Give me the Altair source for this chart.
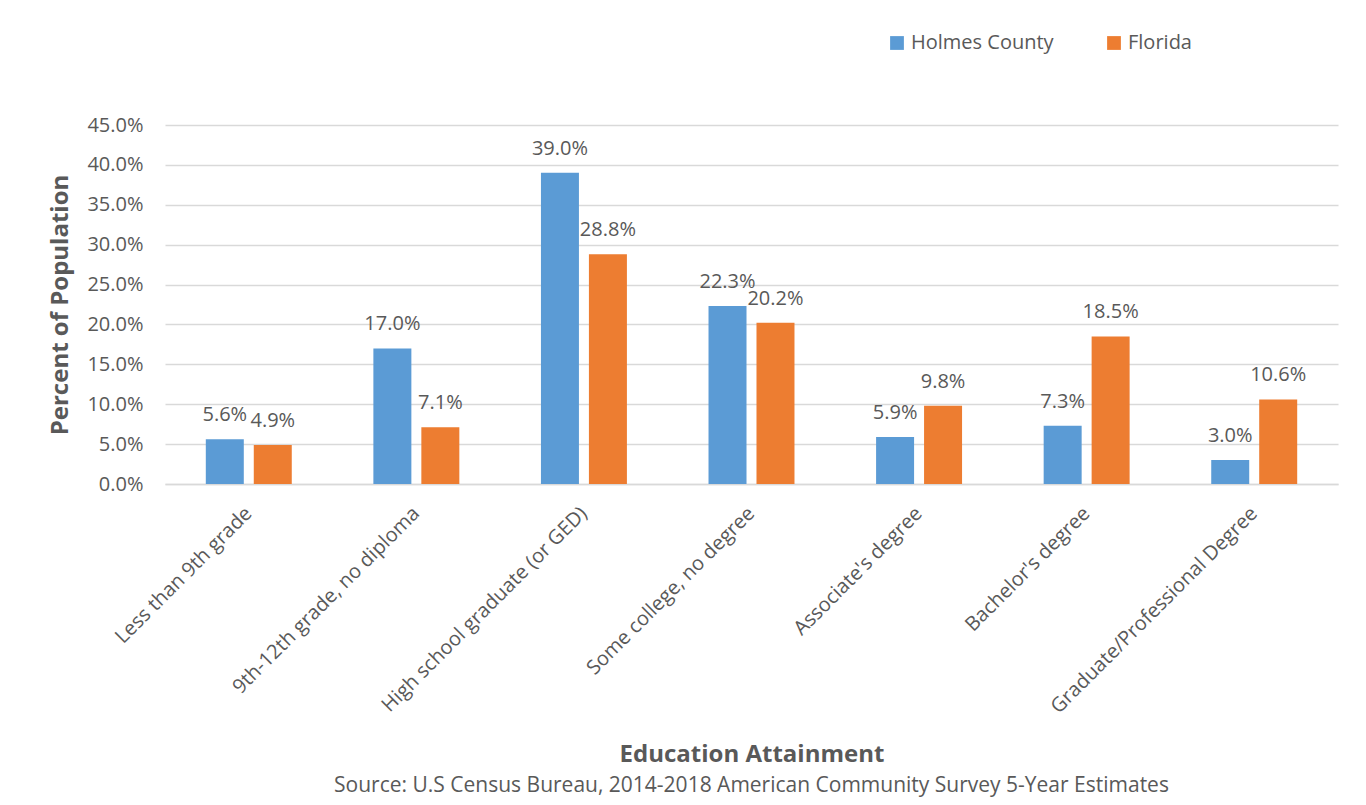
import altair as alt
import pandas as pd

categories = ["Less than 9th grade", "9th-12th grade, no diploma", "High school graduate (or GED)",
              "Some college, no degree", "Associate's degree", "Bachelor's degree",
              "Graduate/Professional Degree"]
holmes = [5.6, 17.0, 39.0, 22.3, 5.9, 7.3, 3.0]
florida = [4.9, 7.1, 28.8, 20.2, 9.8, 18.5, 10.6]
series = ["Holmes County", "Florida"]
colors = ["#5B9BD5", "#ED7D31"]
yticks = [0, 5, 10, 15, 20, 25, 30, 35, 40, 45]

rows = []
for c, h, f in zip(categories, holmes, florida):
    rows.append({"cat": c, "series": series[0], "value": h})
    rows.append({"cat": c, "series": series[1], "value": f})
df = pd.DataFrame(rows)

FONT = "Open Sans"
GRAY = "#595959"
LBL = 20

xscale = alt.Scale(paddingInner=0.487, paddingOuter=0.2435)
yscale = alt.Scale(domain=[0, 45], nice=False)

base = alt.Chart(df).transform_calculate(
    lab="format(datum.value, '.1f') + '%'"
).encode(
    x=alt.X("cat:N", sort=categories, scale=xscale,
            axis=alt.Axis(title="Education Attainment", labelAngle=-45, labelAlign="right",
                          labelBaseline="middle", labelFontSize=LBL, labelColor=GRAY,
                          labelFont=FONT, labelPadding=26, ticks=False, domain=True,
                          domainColor="#d9d9d9", domainWidth=1.5, titleFontSize=24, titleFont=FONT,
                          titleFontWeight="bold", titleColor=GRAY, titlePadding=58,
                          labelLimit=500)),
    xOffset=alt.XOffset("series:N", sort=series,
                        scale=alt.Scale(paddingInner=0.208, paddingOuter=0)),
    y=alt.Y("value:Q", scale=yscale,
            axis=alt.Axis(values=yticks, labelOverlap=False,
                          labelExpr="format(datum.value, '.1f') + '%'",
                          title="Percent of Population", titleFontSize=24, titleFont=FONT,
                          titleFontWeight="bold", titleColor=GRAY, titlePadding=14,
                          labelFontSize=LBL, labelColor=GRAY, labelFont=FONT, labelPadding=22,
                          ticks=False, domain=False, grid=True, gridColor="#d9d9d9",
                          gridWidth=1.5)),
)

bars = base.mark_bar().encode(
    color=alt.Color("series:N", sort=series,
                    scale=alt.Scale(domain=series, range=colors),
                    legend=alt.Legend(title=None, orient="none", direction="horizontal",
                                      legendX=722, legendY=-92, symbolType="square",
                                      symbolSize=190, symbolStrokeWidth=0, labelFontSize=20,
                                      labelFont=FONT, labelColor=GRAY, columnPadding=50,
                                      symbolOpacity=1)),
)

labels = base.mark_text(baseline="alphabetic", dy=-18, fontSize=LBL, font=FONT, color=GRAY).encode(
    text="lab:N",
)

chart = alt.layer(bars, labels).properties(
    width=1173, height=359,
    autosize=alt.AutoSizeParams(type="none"),
    padding={"left": 157, "top": 117, "right": 20, "bottom": 321},
    title=alt.TitleParams(text="Source: U.S Census Bureau, 2014-2018 American Community Survey 5-Year Estimates",
                          orient="bottom", anchor="middle", fontSize=21, font=FONT,
                          fontWeight="normal", color=GRAY, offset=9),
).configure_view(stroke=None)

chart.save("out.html", embed_options={"renderer": "svg", "actions": False})
